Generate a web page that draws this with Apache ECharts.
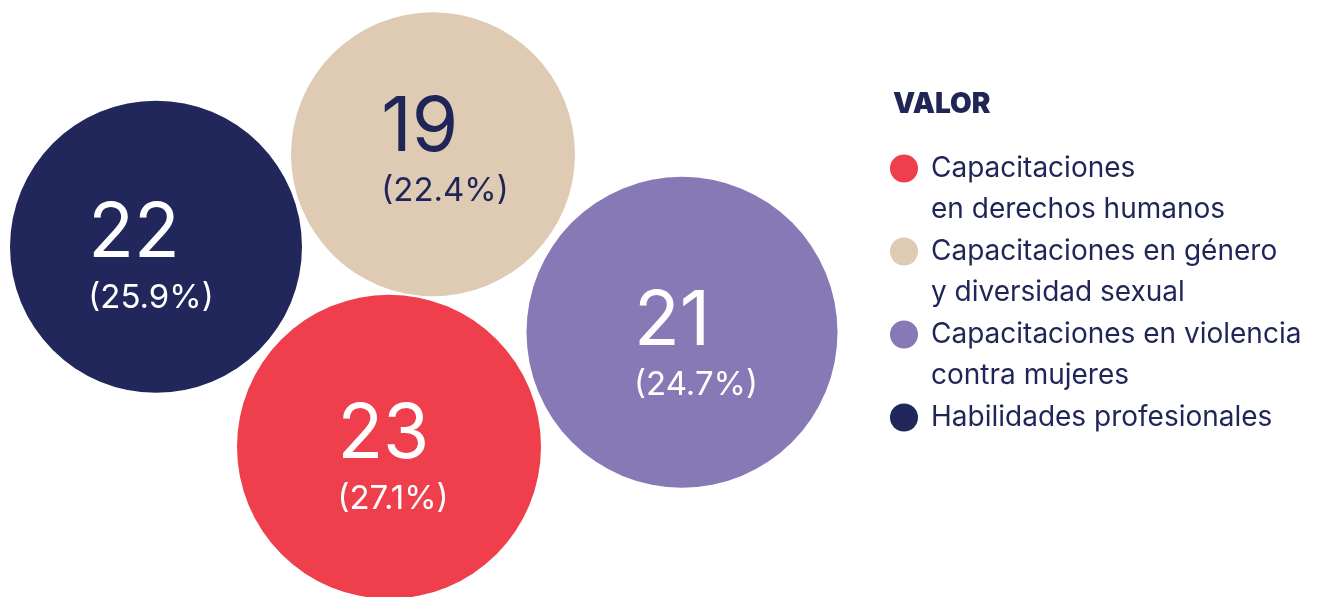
<!DOCTYPE html>
<html>
<head>
<meta charset="utf-8">
<script src="https://cdn.jsdelivr.net/npm/echarts@6/dist/echarts.min.js"></script>
<style>
  html, body { margin: 0; padding: 0; background: #fff; }
  #chart { width: 1319px; height: 597px; }
</style>
</head>
<body>
<div id="chart"></div>
<script>
  // categorias (tal como se cortan en la leyenda)
  const categories = [
    'Capacitaciones\nen derechos humanos',
    'Capacitaciones en género\ny diversidad sexual',
    'Capacitaciones en violencia\ncontra mujeres',
    'Habilidades profesionales'
  ];
  const values = [23, 19, 21, 22];
  const percents = ['27.1%', '22.4%', '24.7%', '25.9%'];

  // disposicion de las burbujas (unidades del eje oculto) y diametro
  const layoutX = [38.9, 43.3, 68.2, 15.6];
  const layoutY = [44.9, 15.5, 33.4, 24.8];
  const bubbleSize = [304, 284, 311, 292];
  // desplazamiento de la etiqueta dentro de cada burbuja
  const labelShift = [[4, 12], [12, -3], [14, 13], [-5, 11]];

  const colors = ['#ef3f4d', '#dfcab4', '#8679b6', '#21275a'];
  const labelColors = ['#ffffff', '#1f2557', '#ffffff', '#ffffff'];
  const navy = '#1f2557';

  const chart = echarts.init(document.getElementById('chart'));

  const series = categories.map((name, i) => ({
    name: name,
    type: 'scatter',
    clip: false,
    symbol: 'circle',
    symbolSize: bubbleSize[i],
    itemStyle: { color: colors[i], opacity: 1 },
    emphasis: { disabled: true },
    label: {
      show: true,
      position: 'inside',
      offset: labelShift[i],
      color: labelColors[i],
      formatter: () => '{n|' + values[i] + '}\n{p|(' + percents[i] + ')}',
      rich: {
        n: { fontFamily: 'Inter', fontSize: 75, lineHeight: 80, align: 'left', color: labelColors[i] },
        p: { fontFamily: 'Inter', fontSize: 33, lineHeight: 46, align: 'left', color: labelColors[i] }
      }
    },
    data: [[layoutX[i], layoutY[i], values[i]]]
  }));

  const option = {
    animation: false,
    title: {
      text: 'VALOR',
      left: 893,
      top: 91,
      padding: 0,
      textStyle: { fontFamily: 'Inter', fontWeight: 900, fontSize: 28, color: navy }
    },
    legend: {
      orient: 'vertical',
      left: 890,
      top: 107,
      padding: 0,
      itemGap: -40,
      itemWidth: 28,
      itemHeight: 28,
      icon: 'circle',
      selectedMode: false,
      data: categories,
      formatter: name => name.indexOf('\n') >= 0 ? '\n' + name : '\n' + name + '\n ',
      itemStyle: { opacity: 1 },
      textStyle: {
        fontFamily: 'Inter',
        fontSize: 28,
        lineHeight: 41,
        color: navy,
        padding: [0, 0, 0, 8]
      }
    },
    grid: { left: 0, top: 0, width: 860, height: 600 },
    xAxis: { type: 'value', min: 0, max: 86, show: false },
    yAxis: { type: 'value', min: 0, max: 60, inverse: true, show: false },
    series: series
  };

  chart.setOption(option);
</script>
</body>
</html>
